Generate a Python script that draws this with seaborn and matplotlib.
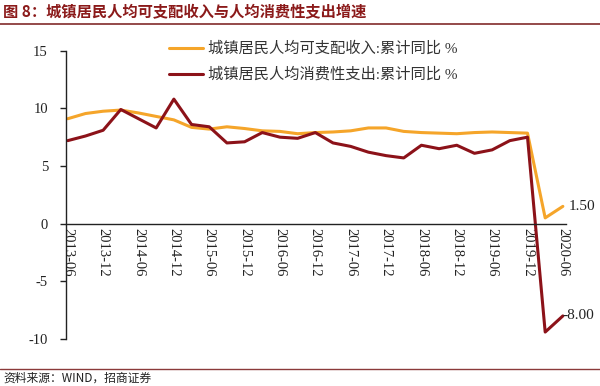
import matplotlib
matplotlib.use("Agg")
import matplotlib.pyplot as plt
import seaborn as sns
import pandas as pd
import numpy as np

dates = ["2013-06", "2013-09", "2013-12", "2014-03", "2014-06", "2014-09", "2014-12",
         "2015-03", "2015-06", "2015-09", "2015-12", "2016-03", "2016-06", "2016-09",
         "2016-12", "2017-03", "2017-06", "2017-09", "2017-12", "2018-03", "2018-06",
         "2018-09", "2018-12", "2019-03", "2019-06", "2019-09", "2019-12", "2020-03",
         "2020-06"]
income = [9.1, 9.55, 9.75, 9.85, 9.6, 9.3, 9.0, 8.35, 8.2, 8.4, 8.25, 8.05, 8.0, 7.8,
          7.9, 7.95, 8.05, 8.3, 8.3, 8.0, 7.9, 7.85, 7.8, 7.9, 7.95, 7.9, 7.85, 0.5, 1.5]
spend = [7.2, 7.6, 8.1, 9.9, 9.1, 8.3, 10.8, 8.6, 8.4, 7.0, 7.1, 7.9, 7.5, 7.4, 7.9,
         7.0, 6.7, 6.2, 5.9, 5.7, 6.8, 6.5, 6.8, 6.1, 6.4, 7.2, 7.5, -9.4, -8.0]
series_names = ["城镇居民人均可支配收入:累计同比 %", "城镇居民人均消费性支出:累计同比 %"]
colors = ["#F5A52A", "#8C1219"]
end_labels = ["1.50", "-8.00"]
title = "图 8：城镇居民人均可支配收入与人均消费性支出增速"
source = "资料来源：WIND，招商证券"

sns.set_style("white")
plt.rcParams['font.family'] = ['Liberation Serif', 'Noto Sans CJK SC', 'DejaVu Sans']
plt.rcParams['axes.unicode_minus'] = False

n = len(dates)
df = pd.DataFrame({
    "pos": list(range(n)) * 2,
    "value": income + spend,
    "series": [series_names[0]] * n + [series_names[1]] * n,
})

fig = plt.figure(figsize=(6, 3.86), dpi=100)
ax = fig.add_axes([0.11, 0.1218, 0.834, 0.7469])
sns.lineplot(data=df, x="pos", y="value", hue="series", palette=colors,
             linewidth=2.2, ax=ax, legend=True)

for s in ["top", "right"]:
    ax.spines[s].set_visible(False)
ax.spines["bottom"].set_position(("data", 0))
ax.spines["bottom"].set_color("#222222")
ax.spines["bottom"].set_linewidth(1.0)
ax.spines["left"].set_color("#222222")
ax.spines["left"].set_linewidth(1.0)

ax.set_xlim(-0.1, n - 1 + 0.2)
ax.set_ylim(-10, 15)
ax.set_yticks([-10, -5, 0, 5, 10, 15])
ax.set_yticklabels(["-10", "-5", "0", "5", "10", "15"], fontsize=10.5, color="#222222")
ticks = list(range(0, n, 2))
ax.set_xticks(ticks)
ax.set_xticklabels([dates[i] for i in ticks], rotation=270, fontsize=10.5,
                   color="#222222", ha="center", va="top")
ax.set_xlabel("")
ax.set_ylabel("")
ax.tick_params(axis="y", left=True, length=4, width=1, color="#222222", pad=9)
ax.tick_params(axis="x", bottom=False, length=0, pad=3)
ax.grid(False)

leg = ax.legend(loc="upper center", bbox_to_anchor=(0.494, 1.08), frameon=False,
                fontsize=11, handlelength=2.2, handletextpad=0.3, labelspacing=0.75)
for t in leg.get_texts():
    t.set_color("#333333")

ax.annotate(end_labels[0], xy=(n - 1, income[-1]), xytext=(4, 0), textcoords="offset points",
            va="center", ha="left", fontsize=11, color="#222222", annotation_clip=False)
ax.annotate(end_labels[1], xy=(n - 1, spend[-1]), xytext=(0, 0), textcoords="offset points",
            va="center", ha="left", fontsize=11, color="#222222", annotation_clip=False)

fig.text(0.005, 0.968, title, fontsize=11, fontweight="bold", color="#8B1A1A",
         family=['Noto Sans CJK SC'], va="center", ha="left")
fig.add_artist(plt.Line2D([0, 1], [0.938, 0.938], color="#8B3A3A", linewidth=1.3,
                          transform=fig.transFigure))
fig.add_artist(plt.Line2D([0, 1], [0.044, 0.044], color="#8B3A3A", linewidth=1.0,
                          transform=fig.transFigure))
fig.text(0.005, 0.02, source, fontsize=8.5, color="#222222",
         family=['Noto Sans CJK SC'], va="center", ha="left")

fig.savefig("out.png", dpi=100)
